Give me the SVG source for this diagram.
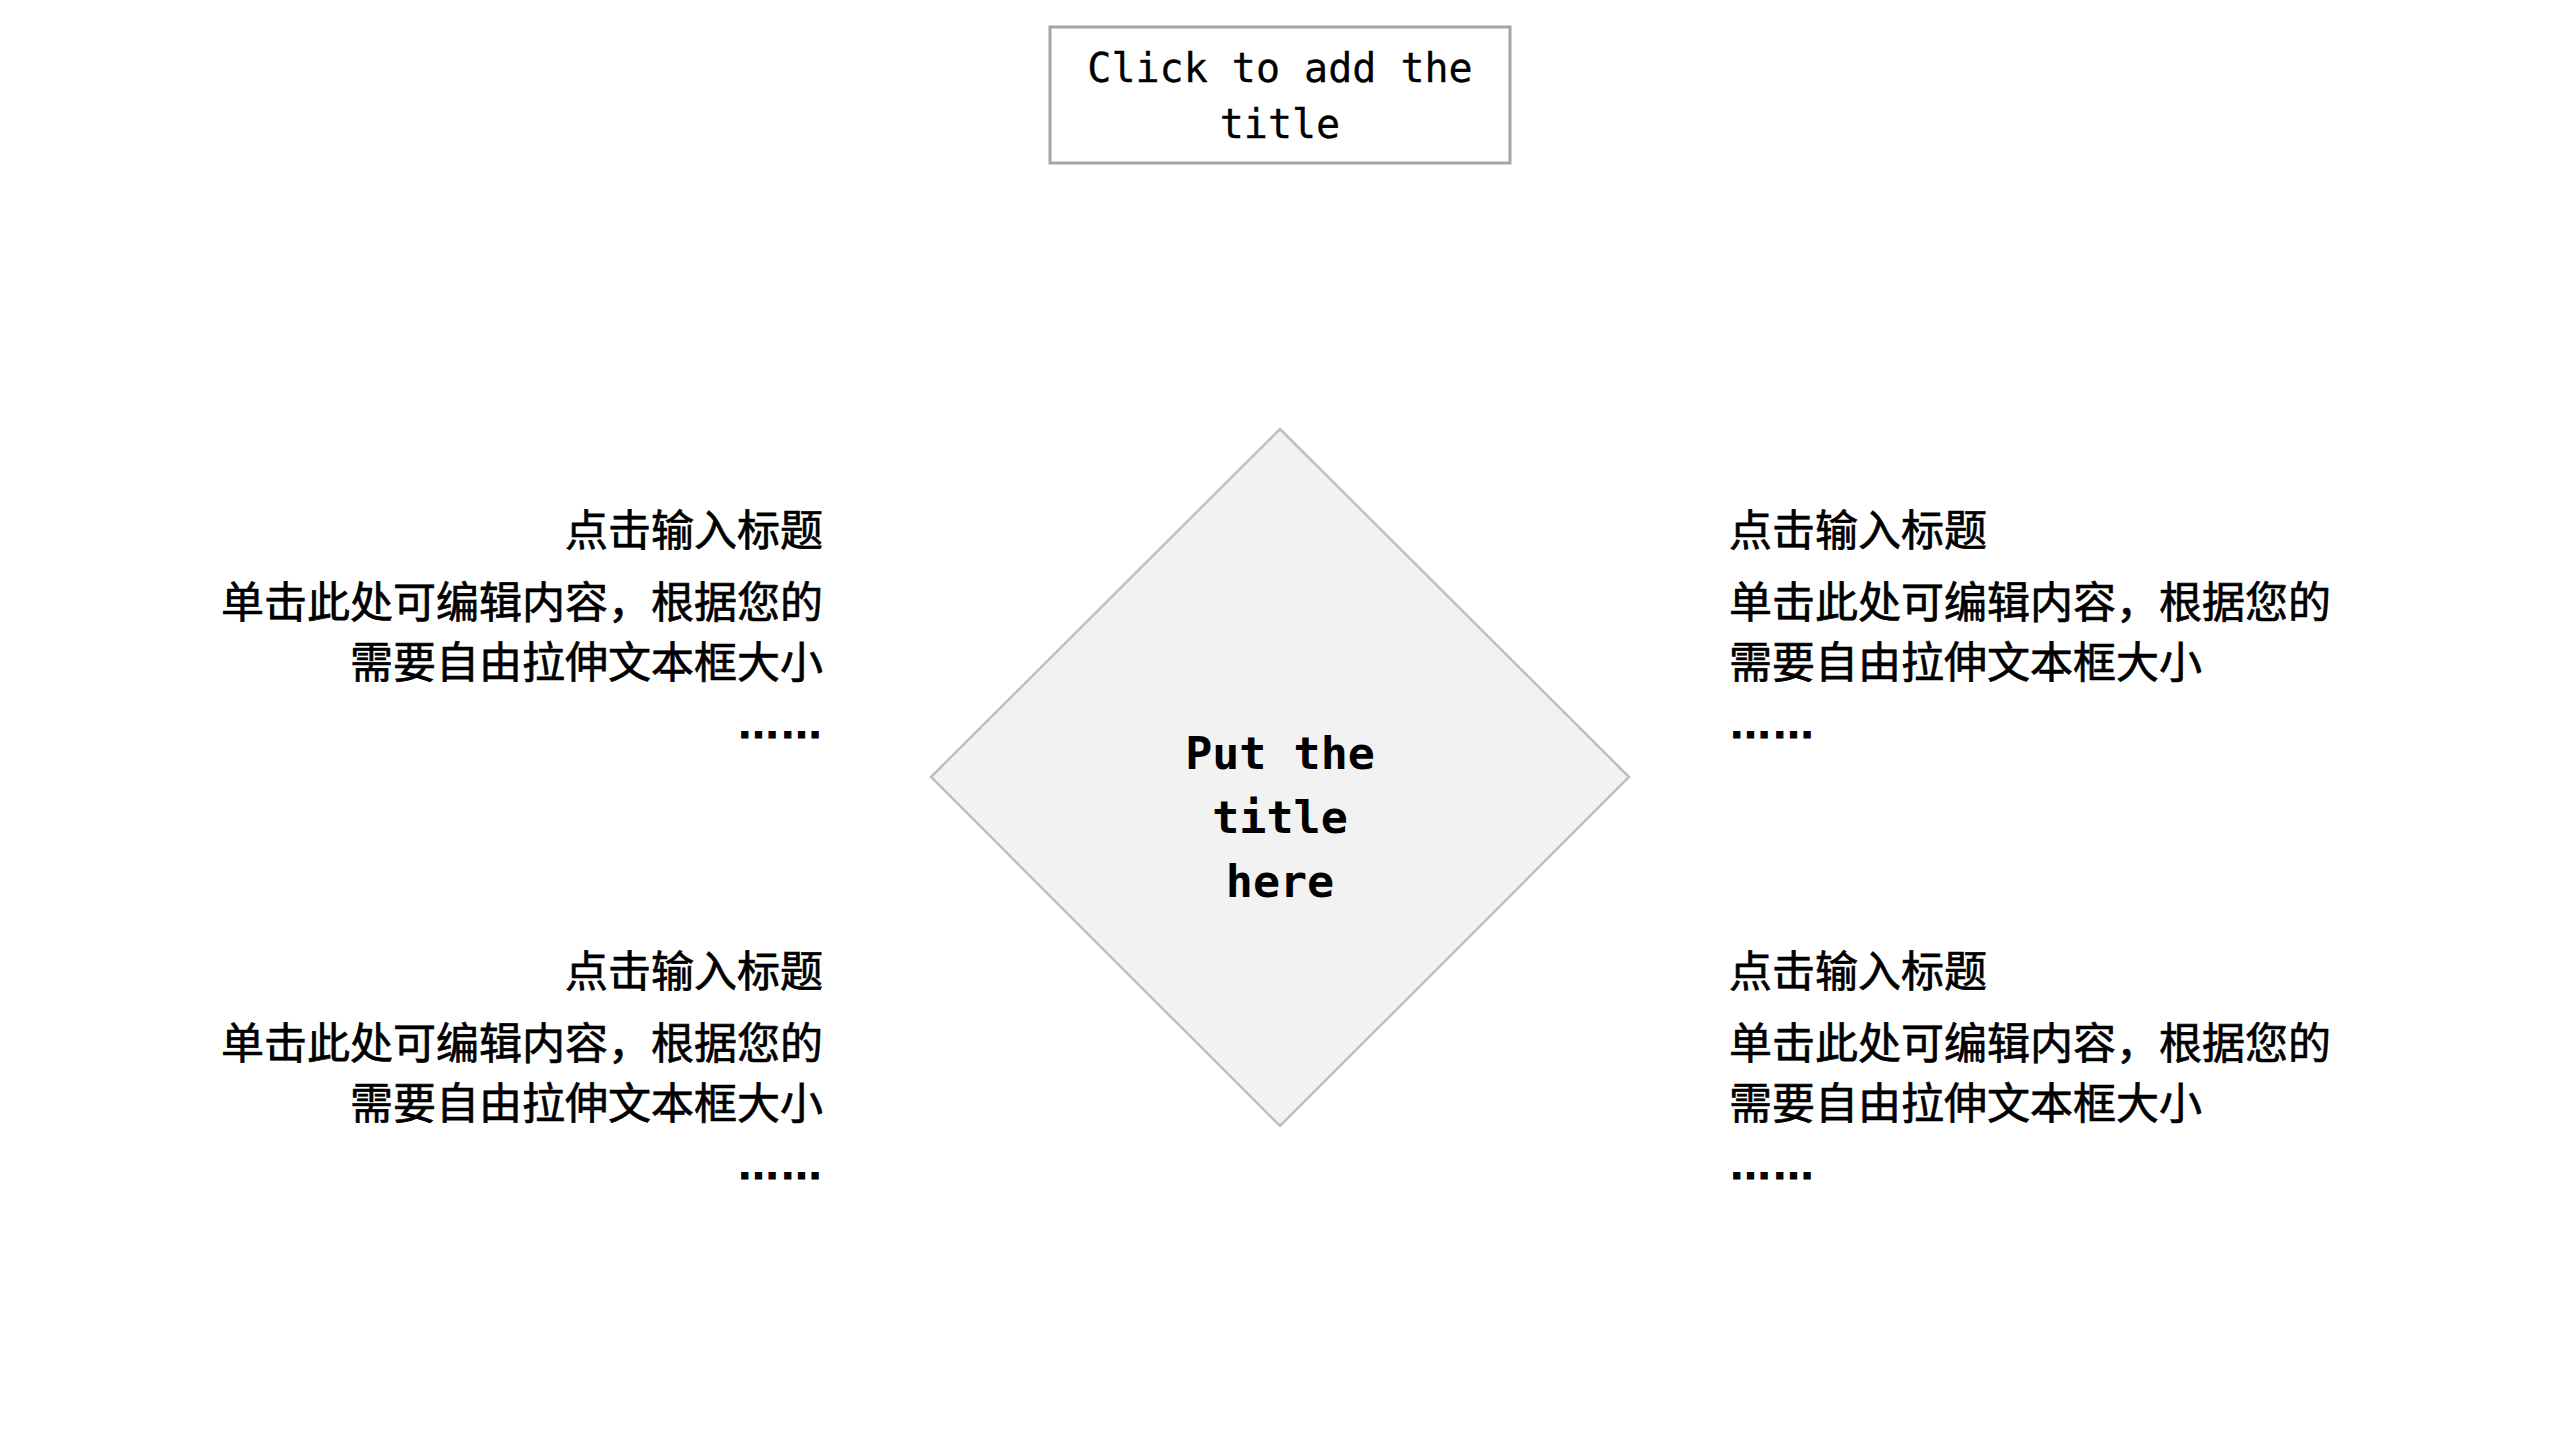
<svg xmlns="http://www.w3.org/2000/svg" width="2560" height="1440" viewBox="0 0 2560 1440">
  <style>
    .cjk { font-family: "Noto Sans CJK SC", "Noto Sans", sans-serif; font-size: 43px; fill: #000000; stroke: #000000; stroke-width: 0.7px; }
    .dots { font-family: "Liberation Sans", "Noto Sans", sans-serif; font-size: 43px; font-weight: bold; fill: #000000; stroke: #000000; stroke-width: 1.2px; }
    .title { font-family: "DejaVu Sans Mono", "Liberation Mono", monospace; font-size: 40px; fill: #000000; text-anchor: middle; stroke: #000000; stroke-width: 0.3px; }
    .center { font-family: "DejaVu Sans Mono", "Liberation Mono", monospace; font-size: 45px; font-weight: bold; fill: #000000; text-anchor: middle; }
    .end { text-anchor: end; }
    .start { text-anchor: start; }
  </style>
  <rect x="0" y="0" width="2560" height="1440" fill="#ffffff"/>
  <g id="connectors"></g>
  <g id="title-box">
    <rect x="1050" y="27" width="460" height="136" fill="#ffffff" stroke="#a6a6a6" stroke-width="3"/>
    <text class="title" x="1280" y="82">Click to add the</text>
    <text class="title" x="1280" y="138">title</text>
  </g>
  <g id="center-diamond">
    <polygon points="1280,429 1629,777 1280,1126 931,777" fill="#f2f2f2" stroke="#bfbfbf" stroke-width="2.5"/>
    <text class="center" x="1280" y="769">Put the</text>
    <text class="center" x="1280" y="833">title</text>
    <text class="center" x="1280" y="897">here</text>
  </g>
  <g id="block-top-left">
    <text class="cjk end" x="823" y="546">点击输入标题</text>
    <text class="cjk end" x="823" y="618">单击此处可编辑内容，根据您的</text>
    <text class="cjk end" x="823" y="678">需要自由拉伸文本框大小</text>
    <text class="dots end" x="823" y="738">……</text>
  </g>
  <g id="block-top-right">
    <text class="cjk start" x="1729" y="546">点击输入标题</text>
    <text class="cjk start" x="1729" y="618">单击此处可编辑内容，根据您的</text>
    <text class="cjk start" x="1729" y="678">需要自由拉伸文本框大小</text>
    <text class="dots start" x="1729" y="738">……</text>
  </g>
  <g id="block-bottom-left">
    <text class="cjk end" x="823" y="987">点击输入标题</text>
    <text class="cjk end" x="823" y="1059">单击此处可编辑内容，根据您的</text>
    <text class="cjk end" x="823" y="1119">需要自由拉伸文本框大小</text>
    <text class="dots end" x="823" y="1179">……</text>
  </g>
  <g id="block-bottom-right">
    <text class="cjk start" x="1729" y="987">点击输入标题</text>
    <text class="cjk start" x="1729" y="1059">单击此处可编辑内容，根据您的</text>
    <text class="cjk start" x="1729" y="1119">需要自由拉伸文本框大小</text>
    <text class="dots start" x="1729" y="1179">……</text>
  </g>
</svg>
